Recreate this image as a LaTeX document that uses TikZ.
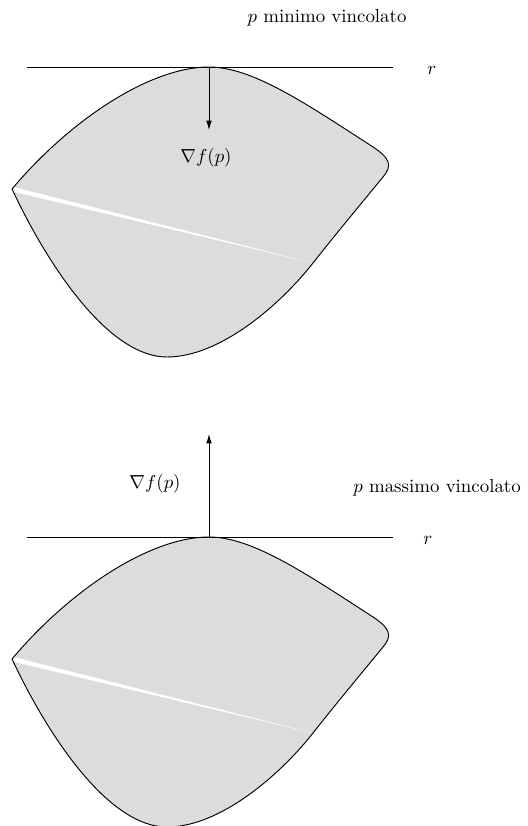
\documentclass[tikz,border=0pt]{standalone}
\usetikzlibrary{arrows.meta}
\definecolor{fillgray}{RGB}{220,220,220}
\tikzset{
  outline/.style={draw=black,line width=0.5pt},
  region/.style={fill=fillgray},
  seam/.style={fill=white},
  tangent/.style={draw=black,line width=0.5pt},
  gradarrow/.style={draw=black,line width=0.5pt,-{Latex[length=5pt,width=3pt]}},
  lbl/.style={inner sep=0pt,font=\normalsize}
}
\begin{document}
\begin{tikzpicture}[x=0.53pt,y=-0.53pt]
\useasboundingbox (0,0) rectangle (527,826);
% ---------- upper figure ----------
\begin{scope}
\coordinate (L1) at (12,189);
\coordinate (T1) at (209,67);
\coordinate (R1) at (388,165);
\coordinate (M1) at (313,263);
\coordinate (B1) at (167,357);
\coordinate (rl1) at (27,67);
\coordinate (rr1) at (393,67);
\coordinate (a1) at (209,130);
\fill[region] (L1) .. controls (70,120) and (150,67) .. (T1)
  .. controls (252,67) and (305,103) .. (370,145)
  .. controls (392,159) and (392,166) .. (383,177)
  .. controls (360,205) and (335,235) .. (M1)
  .. controls (280,305) and (220,357) .. (B1)
  .. controls (110,357) and (50,270) .. (L1) -- cycle;
\fill[seam] ([yshift=-1.3]L1) -- ([yshift=1.3]L1) -- (M1) -- cycle;
\draw[outline] (L1) .. controls (70,120) and (150,67) .. (T1)
  .. controls (252,67) and (305,103) .. (370,145)
  .. controls (392,159) and (392,166) .. (383,177)
  .. controls (360,205) and (335,235) .. (M1)
  .. controls (280,305) and (220,357) .. (B1)
  .. controls (110,357) and (50,270) .. (L1);
\draw[tangent] (rl1) -- (rr1);
\draw[gradarrow] (T1) -- (a1);
\node[lbl] (g1) at (206,158) {$\nabla f(p)$};
\node[lbl] (t1) at (327,18) {$p$ minimo vincolato};
\node[lbl] (r1) at (432,70) {$r$};
\end{scope}
% ---------- lower figure ----------
\begin{scope}
\coordinate (L2) at (12,659);
\coordinate (T2) at (209,537);
\coordinate (M2) at (313,733);
\coordinate (B2) at (167,827);
\coordinate (rl2) at (27,537);
\coordinate (rr2) at (393,537);
\coordinate (a2) at (209,434);
\fill[region] (L2) .. controls (70,590) and (150,537) .. (T2)
  .. controls (252,537) and (305,573) .. (370,615)
  .. controls (392,629) and (392,636) .. (383,647)
  .. controls (360,675) and (335,705) .. (M2)
  .. controls (280,775) and (220,827) .. (B2)
  .. controls (110,827) and (50,740) .. (L2) -- cycle;
\fill[seam] ([yshift=-1.3]L2) -- ([yshift=1.3]L2) -- (M2) -- cycle;
\draw[outline] (L2) .. controls (70,590) and (150,537) .. (T2)
  .. controls (252,537) and (305,573) .. (370,615)
  .. controls (392,629) and (392,636) .. (383,647)
  .. controls (360,675) and (335,705) .. (M2)
  .. controls (280,775) and (220,827) .. (B2)
  .. controls (110,827) and (50,740) .. (L2);
\draw[tangent] (rl2) -- (rr2);
\draw[gradarrow] (T2) -- (a2);
\node[lbl] (g2) at (155,484) {$\nabla f(p)$};
\node[lbl] (t2) at (437,488) {$p$ massimo vincolato};
\node[lbl] (r2) at (428,540) {$r$};
\end{scope}
\end{tikzpicture}
\end{document}
